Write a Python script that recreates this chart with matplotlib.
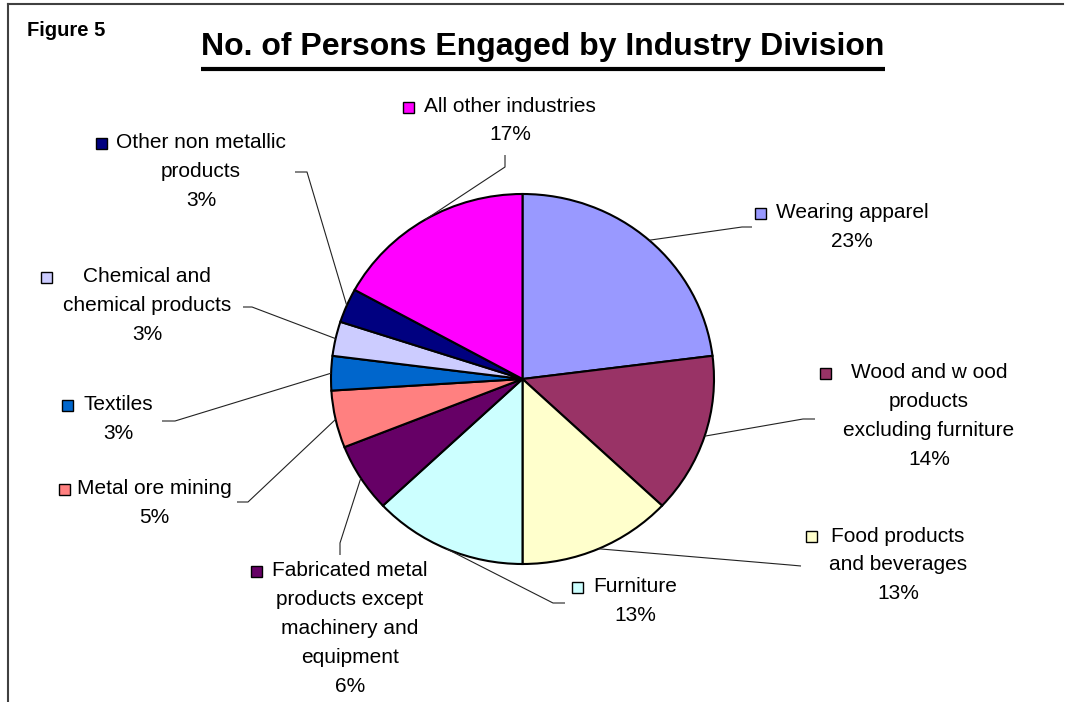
"""Figure 5 -- pie of persons engaged by industry division, with Excel-style leader labels."""
import matplotlib
matplotlib.use("Agg")
import matplotlib.pyplot as plt
from matplotlib.patches import Rectangle

W, H = 1065, 702

# data, clockwise from 12 o'clock
industries = ["Wearing apparel", "Wood and wood products excluding furniture", "Food products and beverages",
              "Furniture", "Fabricated metal products except machinery and equipment", "Metal ore mining",
              "Textiles", "Chemical and chemical products", "Other non metallic products", "All other industries"]
shares = [23, 14, 13, 13, 6, 5, 3, 3, 3, 17]
colors = ["#9999FF", "#993366", "#FFFFCC", "#CCFFFF", "#660066", "#FF8080",
          "#0066CC", "#CCCCFF", "#000080", "#FF00FF"]

# label text as drawn (line breaks as in the original)
label_lines = [
    ["Wearing apparel"],
    ["Wood and w ood", "products", "excluding furniture"],
    ["Food products", "and beverages"],
    ["Furniture"],
    ["Fabricated metal", "products except", "machinery and", "equipment"],
    ["Metal ore mining"],
    ["Textiles"],
    ["Chemical and", "chemical products"],
    ["Other non metallic", "products"],
    ["All other industries"],
]

# layout (pixels): text centre x, first line y, legend-key centre, leader elbow and end
text_cx = [852, 929, 898, 635, 350, 154, 118, 147, 201, 510]
text_y0 = [213, 373, 536, 587, 571, 489, 405, 277, 143, 106]
key_xy = [(760, 213), (825, 373), (811, 536), (577, 587), (256, 571), (64, 489),
          (67, 405), (46, 277), (101, 143), (408, 107)]
elbows = [(742, 227), (803, 419), (790, 565), (553, 603), (340, 543), (248, 502),
          (175, 421), (252, 307), (307, 172), (505, 167)]
ends = [(752, 227), (815, 419), (801, 566), (565, 603), (340, 555), (237, 502),
        (162, 421), (243, 307), (295, 172), (505, 155)]
LINE = 28.8

plt.rcParams["font.family"] = ["Liberation Sans", "DejaVu Sans"]
fig = plt.figure(figsize=(W / 100, H / 100), dpi=100)

# pie sits in its own axes, slightly wider than tall like the original
cx, cy, rx, ry = 522.5, 379, 191.5, 185
pax = fig.add_axes([(cx - rx) / W, (H - cy - ry) / H, 2 * rx / W, 2 * ry / H])
wedges, _ = pax.pie(shares, colors=colors, startangle=90, counterclock=False, radius=1,
                    wedgeprops=dict(edgecolor="black", linewidth=1.5))
pax.set_xlim(-1, 1); pax.set_ylim(-1, 1); pax.set_aspect("auto"); pax.axis("off")
for w in wedges: w.set_clip_on(False)

# overlay in pixel coordinates for text, keys, leaders and frame
ox = fig.add_axes([0, 0, 1, 1], zorder=3)
ox.set_xlim(0, W); ox.set_ylim(H, 0); ox.axis("off")

import math
to_px = pax.transData + ox.transData.inverted()
for i, w in enumerate(wedges):
    mid = math.radians((w.theta1 + w.theta2) / 2)
    px, py = to_px.transform((math.cos(mid), math.sin(mid)))
    ex, ey = elbows[i]; fx, fy = ends[i]
    ox.plot([px, ex, fx], [py, ey, fy], color="#222222", lw=0.8, solid_capstyle="butt")
    lines = label_lines[i] + [f"{shares[i]}%"]
    for j, s in enumerate(lines):
        ox.text(text_cx[i], text_y0[i] + j * LINE, s, ha="center", va="center", fontsize=15, color="black")
    kx, ky = key_xy[i]
    ox.add_patch(Rectangle((kx - 5.5, ky - 5.5), 11, 11, facecolor=colors[i], edgecolor="black", lw=1))

# title with underline
t = ox.text(543, 47, "No. of Persons Engaged by Industry Division", ha="center", va="center",
            fontsize=23, fontweight="bold")
fig.canvas.draw()
bb = t.get_window_extent().transformed(ox.transData.inverted())
ox.plot([bb.x0, bb.x1], [69, 69], color="black", lw=3, solid_capstyle="butt")
ox.text(27, 31, "Figure 5", ha="left", va="center", fontsize=14.5, fontweight="bold")

# frame (top and left edges only are visible in the crop)
ox.plot([8, 1063], [4, 4], color="#404040", lw=1.5)
ox.plot([8, 8], [4, H], color="#404040", lw=1.5)

fig.savefig("out.png", dpi=100)
